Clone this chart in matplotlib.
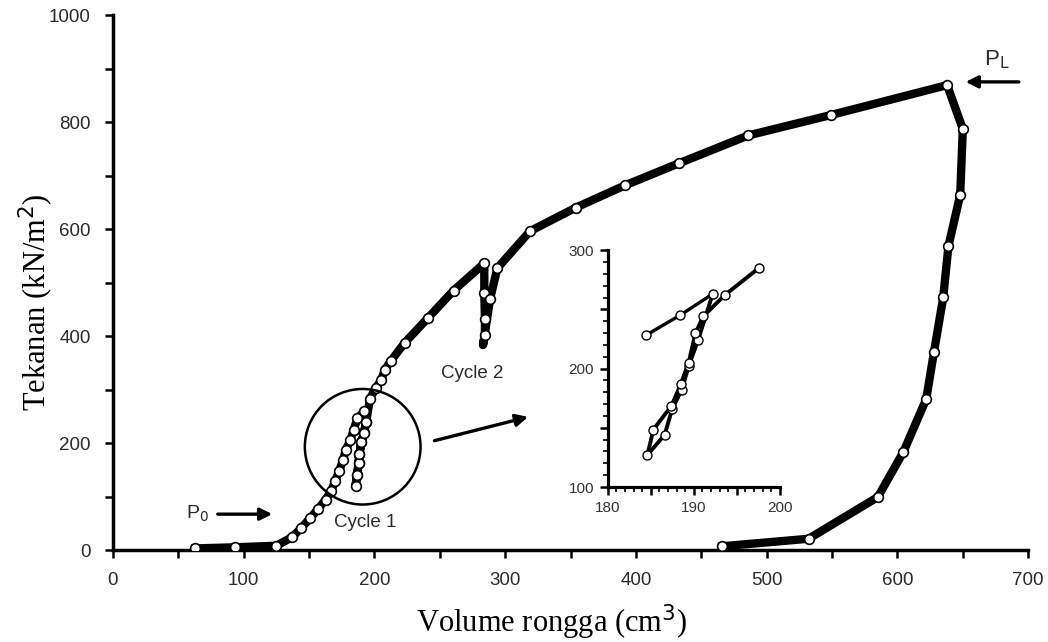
import matplotlib.pyplot as plt
from matplotlib.patches import Ellipse
from matplotlib.ticker import MultipleLocator, FixedLocator, FuncFormatter

# kurva tekanan-volume (uji pressuremeter)
# pembebanan awal sampai puncak cycle 1
v_beban1 = [63, 93, 125, 137, 144, 151, 157, 162.6, 167, 170, 173, 176, 178, 181.6, 184, 187, 192]
p_beban1 = [3, 5, 8, 24, 41, 60, 77, 94, 111, 129, 148, 168, 187, 205, 224, 246, 259]
# cycle 1: unloading lalu reloading
v_cycle1_turun = [193.6, 192, 190, 188.5, 187.8, 186.8, 185.5]
p_cycle1_turun = [239, 219, 201, 180, 162, 140, 120]
v_cycle1_naik = [186.8, 187.8, 188.5, 190, 192, 193.6]
p_cycle1_naik = [140, 162, 180, 201, 219, 239]
# pembebanan sampai cycle 2
v_beban2 = [196.6, 200.8, 205, 208, 212.7, 223, 241, 260.5, 284]
p_beban2 = [283, 302, 317, 337, 354, 387, 434, 485, 536]
v_cycle2_turun = [284, 284.5, 284.5]
p_cycle2_turun = [481, 431, 401]
v_dasar2, p_dasar2 = 283, 383
# reloading sampai P_L
v_beban3 = [288.5, 294, 319, 354, 392, 433, 486, 549, 638]
p_beban3 = [470, 527, 596, 640, 682, 723, 775, 813, 869]
# unloading akhir
v_lepas = [650, 648, 639, 635, 628, 622, 604.5, 585, 532, 466]
p_lepas = [787, 664, 568, 472, 371, 282, 183, 99, 21, 7]

# data inset (perbesaran cycle 1)
v_in_atas = [184.4, 188.4, 192.2]
p_in_atas = [228, 245, 263]
v_in_turun = [190.5, 189.4, 188.6, 187.5, 186.6, 184.6]
p_in_turun = [224, 202, 182, 166, 144, 127]
v_in_naik = [185.3, 187.4, 188.5, 189.4, 190.2, 191.1, 193.6, 197.6]
p_in_naik = [148.5, 168.5, 187, 205, 230, 244, 262, 285]

x_line = (v_beban1 + v_cycle1_turun + v_cycle1_naik + v_beban2 + v_cycle2_turun
          + [v_dasar2] + v_beban3 + v_lepas)
y_line = (p_beban1 + p_cycle1_turun + p_cycle1_naik + p_beban2 + p_cycle2_turun
          + [p_dasar2] + p_beban3 + p_lepas)
x_mark = [x for x in x_line]
y_mark = [y for y in y_line]
i_dasar = len(v_beban1 + v_cycle1_turun + v_cycle1_naik + v_beban2 + v_cycle2_turun)
del x_mark[i_dasar], y_mark[i_dasar]

plt.rcParams['font.family'] = ['Liberation Sans', 'DejaVu Sans']

fig = plt.figure(figsize=(10.48, 6.42), dpi=100)
ax = fig.add_axes([0.1078, 0.1433, 0.8733, 0.8333])

ax.plot(x_line, y_line, color='black', linewidth=6, solid_joinstyle='round', zorder=3)
ax.plot(x_mark, y_mark, linestyle='none', marker='o', markersize=7,
        markerfacecolor='white', markeredgecolor='black', markeredgewidth=1.2, zorder=4)

ax.set_xlim(0, 700)
ax.set_ylim(0, 1000)
ax.spines['top'].set_visible(False)
ax.spines['right'].set_visible(False)
ax.spines['left'].set_linewidth(2.5)
ax.spines['bottom'].set_linewidth(2.5)
ax.xaxis.set_major_locator(MultipleLocator(100))
ax.xaxis.set_minor_locator(MultipleLocator(50))
ax.yaxis.set_major_locator(MultipleLocator(200))
ax.yaxis.set_minor_locator(MultipleLocator(100))
ax.tick_params(which='both', direction='out', length=6, width=1.8, color='black',
               labelsize=13.5, labelcolor='#2b2b2b', pad=10)

# lingkaran cycle 1 dan panah ke inset
ax.add_patch(Ellipse((191, 193), 88.5, 216, fill=False, edgecolor='black', linewidth=1.8, zorder=5))
ax.annotate('', xy=(319.6, 250), xytext=(243.8, 203),
            arrowprops=dict(arrowstyle='-|>', color='black', lw=2.4, mutation_scale=18))
ax.annotate('', xy=(124, 67), xytext=(78, 67),
            arrowprops=dict(arrowstyle='-|>', color='black', lw=2.4, mutation_scale=18))
ax.annotate('', xy=(650, 875), xytext=(695, 875), annotation_clip=False,
            arrowprops=dict(arrowstyle='-|>', color='black', lw=2.4, mutation_scale=18))

ax.text(65, 67, r'P$_0$', fontsize=14, color='#2b2b2b', ha='center', va='center')
ax.text(676, 917, r'P$_\mathrm{L}$', fontsize=16, color='#2b2b2b', ha='center', va='center')
ax.text(193, 52, 'Cycle 1', fontsize=13.5, color='#2b2b2b', ha='center', va='center')
ax.text(275, 330, 'Cycle 2', fontsize=13.5, color='#2b2b2b', ha='center', va='center')

fig.text(552 / 1048, 1 - 622 / 642, r'Volume rongga (cm$^3$)', family='Liberation Serif',
         fontsize=22, ha='center', va='center')
fig.text(36 / 1048, 1 - 302 / 642, r'Tekanan (kN/m$^2$)', family='Liberation Serif',
         fontsize=22, ha='center', va='center', rotation=90)

# inset
axin = fig.add_axes([0.580, 0.2414, 0.164, 0.369])
axin.plot(v_in_atas, p_in_atas, color='black', linewidth=2.4, zorder=3)
axin.plot([v_in_atas[-1]] + v_in_turun, [p_in_atas[-1]] + p_in_turun,
          color='black', linewidth=2.8, zorder=3)
axin.plot([v_in_turun[-1]] + v_in_naik, [p_in_turun[-1]] + p_in_naik,
          color='black', linewidth=2.8, zorder=3)
for xs, ys in [(v_in_atas, p_in_atas), (v_in_turun, p_in_turun), (v_in_naik, p_in_naik)]:
    axin.plot(xs, ys, linestyle='none', marker='o', markersize=6.5, markerfacecolor='white',
              markeredgecolor='black', markeredgewidth=1.0, zorder=4)
axin.set_xlim(180, 200)
axin.set_ylim(100, 300)
axin.patch.set_alpha(0)
axin.spines['top'].set_visible(False)
axin.spines['right'].set_visible(False)
axin.spines['left'].set_linewidth(2.3)
axin.spines['bottom'].set_linewidth(2.3)
axin.xaxis.set_major_locator(FixedLocator([180, 185, 190, 195, 200]))
axin.xaxis.set_minor_locator(MultipleLocator(1))
axin.yaxis.set_major_locator(FixedLocator([100, 150, 200, 250, 300]))
axin.yaxis.set_minor_locator(MultipleLocator(10))
axin.xaxis.set_major_formatter(FuncFormatter(lambda v, p: '%d' % v if v % 10 == 0 else ''))
axin.yaxis.set_major_formatter(FuncFormatter(lambda v, p: '%d' % v if v % 100 == 0 else ''))
axin.tick_params(which='major', direction='out', length=6, width=1.8,
                 labelsize=11, labelcolor='#333333', pad=4)
axin.tick_params(which='minor', direction='out', length=3.5, width=1.2)

fig.savefig('out.png', dpi=100)
